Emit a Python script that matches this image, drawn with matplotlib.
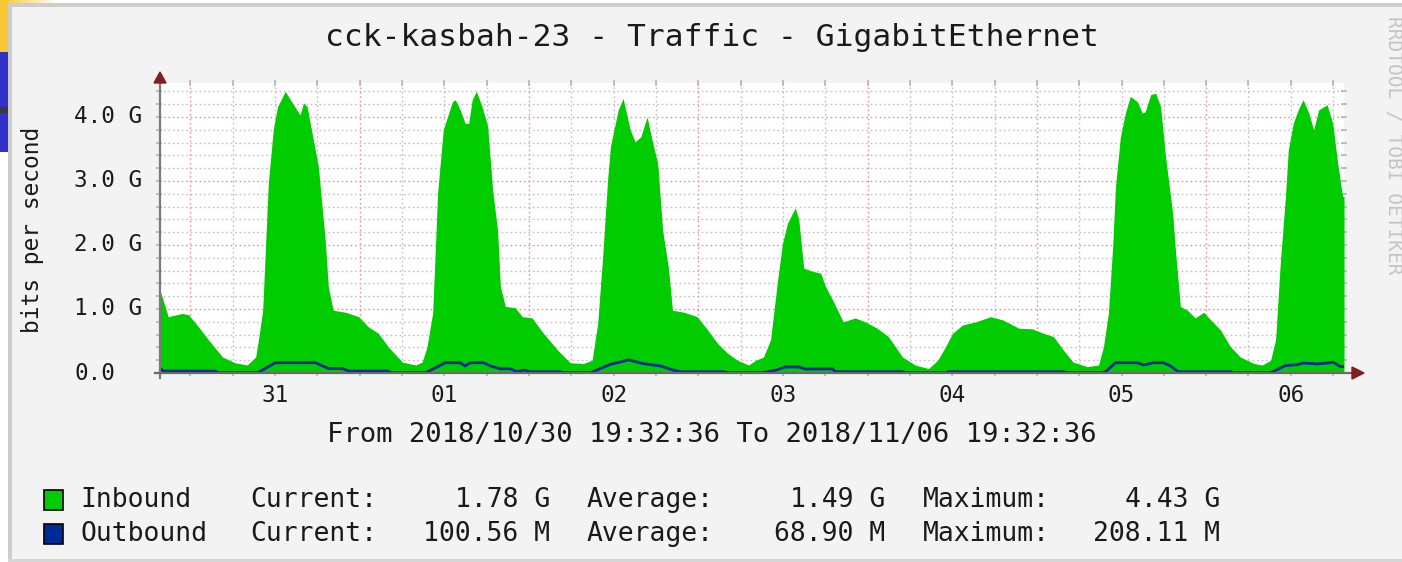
import matplotlib
matplotlib.use('Agg')
import matplotlib.pyplot as plt
from matplotlib.patches import Rectangle, Polygon
from matplotlib.lines import Line2D
import matplotlib.transforms as mtransforms

# ---------------- data ----------------
title = "cck-kasbah-23 - Traffic - GigabitEthernet"
period_text = "From 2018/10/30 19:32:36 To 2018/11/06 19:32:36"
y_label = "bits per second"
side_text = "RRDTOOL / TOBI OETIKER"

# hours since 2018/10/30 19:32:36
t_in = [0.0, 1.3, 3.3, 4.2, 5.6, 7.0, 9.0, 10.8, 12.5, 13.7,
        14.1, 14.7, 15.5, 16.2, 16.8, 17.9, 18.9, 20.0, 20.5, 21.0,
        21.7, 22.6, 23.6, 24.0, 24.7, 26.4, 28.3, 29.7, 31.1, 32.5,
        34.5, 36.4, 37.3, 38.0, 38.8, 39.5, 40.3, 41.6, 42.0, 42.7,
        43.4, 43.9, 44.4, 45.0, 45.8, 46.6, 47.3, 48.0, 48.4, 49.1,
        50.5, 51.5, 52.9, 54.5, 56.5, 58.3, 60.2, 61.4, 62.2, 62.9,
        63.6, 64.0, 64.7, 65.1, 65.8, 66.8, 67.5, 68.3, 69.2, 70.0,
        70.7, 71.4, 72.2, 72.8, 74.4, 76.3, 77.8, 79.2, 80.6, 82.0,
        83.6, 84.6, 85.7, 86.7, 87.7, 88.4, 89.1, 90.2, 90.7, 91.4,
        92.6, 93.8, 94.5, 95.6, 97.0, 98.7, 100.1, 101.8, 103.4, 105.4,
        107.2, 109.1, 110.4, 111.5, 112.5, 113.9, 115.8, 117.9, 119.6, 121.9,
        123.8, 125.4, 126.8, 128.2, 129.6, 131.6, 133.2, 133.9, 134.6, 135.2,
        135.6, 136.3, 137.0, 137.7, 138.7, 139.4, 139.8, 140.6, 141.3, 142.0,
        142.7, 143.7, 144.1, 144.8, 145.8, 146.9, 148.1, 149.1, 150.5, 151.9,
        153.3, 155.2, 156.4, 157.6, 158.3, 159.0, 159.7, 160.1, 160.8, 161.5,
        162.2, 163.0, 163.7, 164.4, 165.6, 166.4, 167.1, 167.8, 168.0]
# inbound, Gbit/s
v_in = [1.35, 0.88, 0.93, 0.91, 0.72, 0.52, 0.25, 0.16, 0.125, 0.25,
        0.52, 0.98, 2.97, 3.80, 4.16, 4.40, 4.22, 4.03, 4.22, 4.16,
        3.75, 3.22, 2.03, 1.35, 0.98, 0.95, 0.88, 0.72, 0.62, 0.41,
        0.17, 0.125, 0.17, 0.41, 0.94, 2.81, 3.80, 4.24, 4.27, 4.11,
        3.90, 3.90, 4.27, 4.40, 4.16, 3.85, 2.86, 2.23, 1.35, 1.04,
        1.02, 0.88, 0.86, 0.62, 0.36, 0.16, 0.15, 0.20, 0.78, 1.82,
        3.02, 3.54, 3.90, 4.11, 4.29, 3.80, 3.61, 3.69, 4.00, 3.59,
        3.28, 2.23, 1.66, 0.98, 0.95, 0.88, 0.67, 0.46, 0.31, 0.20,
        0.125, 0.20, 0.25, 0.52, 1.45, 2.03, 2.34, 2.58, 2.40, 1.64,
        1.59, 1.56, 1.35, 1.12, 0.80, 0.86, 0.80, 0.70, 0.57, 0.25,
        0.125, 0.07, 0.20, 0.41, 0.62, 0.75, 0.80, 0.88, 0.83, 0.70,
        0.69, 0.62, 0.57, 0.36, 0.17, 0.10, 0.125, 0.41, 0.94, 1.97,
        2.91, 3.69, 4.06, 4.32, 4.24, 4.06, 4.08, 4.35, 4.37, 4.16,
        3.38, 2.50, 1.92, 1.04, 0.98, 0.86, 0.95, 0.83, 0.67, 0.41,
        0.25, 0.15, 0.125, 0.20, 0.52, 1.77, 2.76, 3.48, 3.90, 4.11,
        4.27, 4.06, 3.80, 4.11, 4.19, 3.90, 3.28, 2.76, 2.76]

t_out = [0.0, 0.6, 8.0, 8.3, 14.0, 16.5, 22.2, 24.0, 26.0, 26.9,
         32.5, 32.8, 37.8, 40.6, 42.7, 43.4, 44.1, 46.0, 47.0, 48.4,
         49.8, 50.8, 51.7, 52.7, 56.9, 57.3, 61.2, 64.0, 66.6, 68.7,
         71.1, 72.9, 73.9, 80.0, 80.6, 85.5, 87.4, 88.8, 90.7, 91.6,
         95.5, 95.9, 105.4, 105.8, 111.5, 111.9, 128.2, 128.8, 133.5, 134.2,
         135.6, 138.7, 139.6, 141.0, 142.4, 143.4, 144.5, 151.9, 152.3, 157.6,
         159.7, 161.4, 162.2, 164.2, 165.6, 166.5, 167.5, 168.0]
# outbound, Mbit/s
v_out = [90, 30, 30, 5, 5, 160, 160, 70, 70, 30,
         30, 5, 5, 160, 160, 110, 160, 160, 110, 65,
         65, 20, 45, 20, 20, 5, 5, 135, 205, 145,
         110, 45, 20, 20, 5, 5, 42, 94, 94, 63,
         63, 20, 20, 5, 5, 20, 20, 5, 5, 20,
         160, 160, 125, 160, 160, 110, 20, 20, 5, 5,
         115, 130, 156, 141, 156, 167, 100, 100]

y_ticks = [0, 1, 2, 3, 4]
y_tick_labels = ["0.0", "1.0 G", "2.0 G", "3.0 G", "4.0 G"]
day_labels = ["31", "01", "02", "03", "04", "05", "06"]

legend_names = ["Inbound", "Outbound"]
legend_colors = ["#00cc00", "#002a97"]
legend_current = ["1.78 G", "100.56 M"]
legend_average = ["1.49 G", "68.90 M"]
legend_maximum = ["4.43 G", "208.11 M"]

# ---------------- figure ----------------
W, H = 1402, 562
fig = plt.figure(figsize=(W / 100, H / 100), dpi=100, facecolor='#f3f3f3')


def fx(x):
    return x / W


def fy(y):
    return 1 - y / H


def rect(x0, y0, x1, y1, color, **kw):
    fig.add_artist(Rectangle((fx(x0), fy(y1)), fx(x1) - fx(x0), fy(y0) - fy(y1),
                             transform=fig.transFigure, facecolor=color,
                             edgecolor='none', **kw))


# page artefacts at left / top edges
rect(0, 0, 8, H, 'white')
rect(0, 0, W, 3, 'white')
for i in range(12):
    rect(i * 5, 0, i * 5 + 5, 3, '#f8c834', alpha=max(0.0, 1 - i / 11))
rect(0, 0, 8, 52, '#f8c834')
rect(0, 52, 8, 152, '#3232c8')
rect(0, 107, 8, 113, '#3a3a3a')
# frame
rect(8, 3, 12, H, '#cdcdcd')
rect(8, 3, W, 7, '#cdcdcd')
rect(8, 559, W, H, '#d6d6d6')

mono = 'DejaVu Sans Mono'
txt = '#1a1a1a'

ax = fig.add_axes([fx(159), fy(373), fx(1344) - fx(159), fy(83) - fy(373)])
ax.set_facecolor('white')
ax.set_xlim(0, 168)
ax.set_ylim(0, 4.53)
for s in ax.spines.values():
    s.set_visible(False)

midnight0 = 24 - (19 + 32 / 60 + 36 / 3600)
major_x = [midnight0 + 24 * k for k in range(7)]
minor_x = [midnight0 + 6 * m for m in range(28) if m % 4]
ax.set_xticks(major_x)
ax.set_xticks(minor_x, minor=True)
ax.set_yticks(y_ticks)
ax.set_yticks([0.2 * i for i in range(1, 23) if i % 5], minor=True)
ax.tick_params(which='both', direction='inout', length=5, width=1.1,
               color='#b0b0b0', labelbottom=False, labelleft=False,
               top=True, right=True, bottom=True, left=True)
ax.grid(which='major', color='#f29090', linestyle=(0, (1.2, 2.0)), linewidth=1.0)
ax.grid(which='minor', color='#c0c0c0', linestyle=(0, (1.2, 2.0)), linewidth=1.0)
ax.set_axisbelow(True)

ax.fill_between(t_in, v_in, 0, color='#00cc00', linewidth=0, zorder=2)
ax.plot(t_out, [v / 1000 for v in v_out], color='#002a97', lw=2.0, zorder=4,
        solid_joinstyle='miter')

# axis lines with arrows
fig.add_artist(Line2D([fx(160), fx(160)], [fy(378), fy(80)], color='#7a7a7a', lw=1.6,
                      transform=fig.transFigure, zorder=5))
fig.add_artist(Line2D([fx(155), fx(1354)], [fy(373), fy(373)], color='#6a6a6a', lw=1.6,
                      transform=fig.transFigure, zorder=5))
fig.add_artist(Polygon([(fx(154), fy(83)), (fx(166), fy(83)), (fx(160), fy(72))],
                       closed=True, transform=fig.transFigure, color='#801f1f', zorder=6))
fig.add_artist(Polygon([(fx(1352), fy(367)), (fx(1352), fy(379)), (fx(1364), fy(373))],
                       closed=True, transform=fig.transFigure, color='#801f1f', zorder=6))

# tick labels
ytrans = mtransforms.blended_transform_factory(fig.transFigure, ax.transData)
for v, lab in zip(y_ticks, y_tick_labels):
    ax.text(fx(74), v, lab, transform=ytrans, ha='left', va='center',
            fontsize=16.3, family=mono, color=txt, clip_on=False)
xtrans = mtransforms.blended_transform_factory(ax.transData, fig.transFigure)
for k, lab in enumerate(day_labels):
    ax.text(midnight0 + 12 + 24 * k, fy(396), lab, transform=xtrans, ha='center',
            va='center', fontsize=16.3, family=mono, color=txt, clip_on=False)

fig.text(fx(712), fy(37), title, ha='center', va='center', fontsize=22.5,
         family=mono, color=txt)
fig.text(fx(712), fy(435), period_text, ha='center', va='center', fontsize=19.6,
         family=mono, color=txt)
fig.text(fx(33), fy(230), y_label, ha='center', va='center', rotation=90,
         fontsize=16.5, family=mono, color=txt)
fig.text(fx(1393), fy(145), side_text, ha='center', va='center', rotation=270,
         fontsize=14, family=mono, color='#c4c4c4')

# legend
rows_y = [500, 534]
for i in range(2):
    yy = rows_y[i]
    fig.add_artist(Rectangle((fx(44), fy(yy + 10)), fx(63) - fx(44), fy(yy - 10) - fy(yy + 10),
                             transform=fig.transFigure, facecolor=legend_colors[i],
                             edgecolor='black', linewidth=1.2))
    kw = dict(va='center', fontsize=19, family=mono, color=txt)
    fig.text(fx(80), fy(yy), legend_names[i], ha='left', **kw)
    fig.text(fx(250), fy(yy), "Current:", ha='left', **kw)
    fig.text(fx(550), fy(yy), legend_current[i], ha='right', **kw)
    fig.text(fx(587), fy(yy), "Average:", ha='left', **kw)
    fig.text(fx(885), fy(yy), legend_average[i], ha='right', **kw)
    fig.text(fx(923), fy(yy), "Maximum:", ha='left', **kw)
    fig.text(fx(1220), fy(yy), legend_maximum[i], ha='right', **kw)

fig.savefig('out.png', dpi=100, facecolor=fig.get_facecolor())
